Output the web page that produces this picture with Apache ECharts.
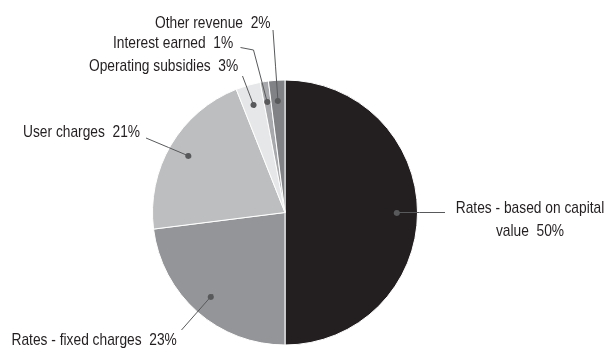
<!DOCTYPE html>
<html>
<head>
<meta charset="utf-8">
<script src="https://cdn.jsdelivr.net/npm/echarts@6/dist/echarts.min.js"></script>
<style>
  html, body { margin: 0; padding: 0; background: #ffffff; }
  #chart { width: 604px; height: 349px; }
</style>
</head>
<body>
<div id="chart"></div>
<script>
// Revenue sources, percent of total
const categories = [
  'Rates - based on capital\nvalue',
  'Rates - fixed charges',
  'User charges',
  'Operating subsidies',
  'Interest earned',
  'Other revenue'
];
const shares = [50, 23, 21, 3, 1, 2];
const sliceColors = ['#231f20', '#939598', '#bcbec0', '#e6e7e8', '#a7a9ac', '#808285'];

// Pie geometry
const CX = 285, CY = 212.5, R = 132.5;
const DOT_R = 109;                 // radius where leader lines start
const LINE_COLOR = '#58595b';
const TEXT_COLOR = '#231f20';
const FONT = '17px "Liberation Sans", Arial, sans-serif';
const TEXT_SQUEEZE = 0.81;         // narrow sans look for the labels

// Where each label sits and where its leader line ends
const labelSpots = [
  { x: 530, y: 220, align: 'center', end: [445, null] },
  { x: 11.5, y: 340.5, align: 'left', end: [181.5, 330] },
  { x: 23, y: 132.5, align: 'left', end: [146, 138] },
  { x: 89, y: 66, align: 'left', end: [242.5, 76] },
  { x: 113, y: 43, align: 'left', bend: [253.5, 50], end: [240.5, 47.5] },
  { x: 155, y: 23.5, align: 'left', end: [273, 30] }
];

const total = shares.reduce((a, b) => a + b, 0);
function edgePoint(i) {
  let before = 0;
  for (let k = 0; k < i; k++) before += shares[k];
  const ang = (90 - 360 * (before + shares[i] / 2) / total) * Math.PI / 180;
  return [CX + R * Math.cos(ang), CY - R * Math.sin(ang)];
}
function labelText(i) {
  return categories[i] + '  ' + shares[i] + '%';
}

const pieData = categories.map((name, i) => ({
  name: name,
  value: shares[i],
  itemStyle: { color: sliceColors[i] }
}));
const plainData = categories.map((name, i) => ({ name: name, value: shares[i] }));

// Visible label text, condensed horizontally around its anchor
const labelGraphics = labelSpots.map((s, i) => ({
  type: 'text',
  x: s.x,
  y: s.y,
  scaleX: TEXT_SQUEEZE,
  originX: 0,
  originY: 0,
  silent: true,
  style: {
    text: labelText(i),
    font: FONT,
    fill: TEXT_COLOR,
    align: s.align,
    verticalAlign: 'middle',
    lineHeight: 22.5
  }
}));

const clear = 'rgba(0,0,0,0)';

const chart = echarts.init(document.getElementById('chart'), null, { renderer: 'canvas' });
chart.setOption({
  animation: false,
  backgroundColor: '#ffffff',
  graphic: { elements: labelGraphics },
  series: [
    {
      // the slices
      type: 'pie',
      z: 2,
      center: [CX, CY],
      radius: [0, R],
      startAngle: 90,
      clockwise: true,
      silent: true,
      itemStyle: { borderColor: '#ffffff', borderWidth: 1 },
      label: { show: false },
      labelLine: { show: false },
      data: pieData
    },
    {
      // leader lines, laid over the slices
      type: 'pie',
      z: 3,
      center: [CX, CY],
      radius: [0, R],
      startAngle: 90,
      clockwise: true,
      avoidLabelOverlap: false,
      silent: true,
      itemStyle: { color: clear, borderWidth: 0 },
      label: {
        show: true,
        formatter: p => labelText(p.dataIndex),
        color: clear,
        fontSize: 17,
        overflow: 'none'
      },
      labelLine: {
        show: true,
        showAbove: true,
        length: 10,
        length2: 10,
        lineStyle: { color: LINE_COLOR, width: 1 }
      },
      labelLayout: function (p) {
        const s = labelSpots[p.dataIndex];
        let p0 = p.labelLinePoints && p.labelLinePoints[0];
        if (!p0) p0 = edgePoint(p.dataIndex);
        const k = DOT_R / R;
        const dot = [CX + (p0[0] - CX) * k, CY + (p0[1] - CY) * k];
        const end = [s.end[0], s.end[1] == null ? dot[1] : s.end[1]];
        const mid = s.bend || [(dot[0] + end[0]) / 2, (dot[1] + end[1]) / 2];
        return {
          x: s.x,
          y: s.y,
          align: s.align,
          verticalAlign: 'middle',
          labelLinePoints: [dot, mid, end]
        };
      },
      emphasis: { disabled: true },
      data: plainData
    },
    {
      // dots at the start of each leader line
      type: 'pie',
      z: 4,
      center: [CX, CY],
      radius: [2 * DOT_R - R, R],
      startAngle: 90,
      clockwise: true,
      silent: true,
      itemStyle: { color: clear, borderWidth: 0 },
      label: {
        show: true,
        position: 'inside',
        formatter: '●',
        fontFamily: 'DejaVu Sans',
        fontSize: 8,
        color: LINE_COLOR
      },
      labelLine: { show: false },
      emphasis: { disabled: true },
      data: plainData
    }
  ]
});
</script>
</body>
</html>
